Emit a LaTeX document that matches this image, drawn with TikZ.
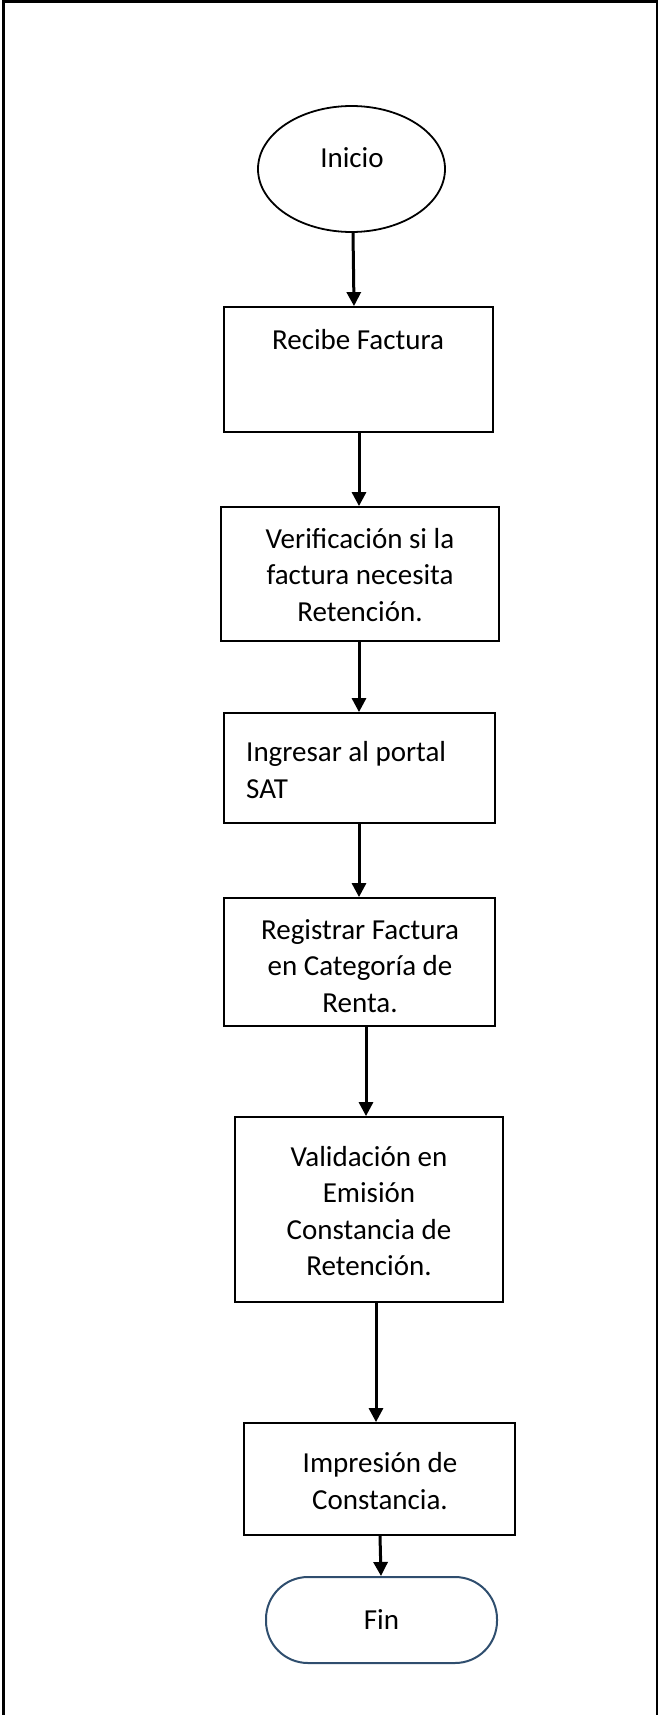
\documentclass[tikz,border=0pt]{standalone}
\usepackage{fontspec}
\setmainfont{Carlito}
\usetikzlibrary{arrows.meta,shapes.geometric}
\definecolor{finblue}{RGB}{47,78,110}
\tikzset{
  boxnode/.style={draw=black, line width=1.8pt, rectangle, inner sep=0pt},
  txt/.style={inner sep=0pt, font=\fontsize{29pt}{36.5pt}\selectfont, align=center},
  arr/.style={line width=3pt, -{Triangle[length=14pt,width=14pt]}, shorten >=0pt}
}
\begin{document}
\begin{tikzpicture}[x=1pt,y=-1pt]
\useasboundingbox (0,0) rectangle (659,1715);
\draw[line width=2.2pt] (3.5,1716) -- (3.5,1.5) -- (657,1.5) -- (657,1716);

% shapes
\node[draw=black, line width=1.8pt, ellipse, inner sep=0pt, minimum width=187pt, minimum height=126pt] (ini) at (351.5,169) {};
\node[boxnode, minimum width=269pt, minimum height=125pt] (rb) at (358.5,369.5) {};
\node[boxnode, minimum width=278pt, minimum height=134pt] (vr) at (360,574) {};
\node[boxnode, minimum width=271pt, minimum height=110pt] (ip) at (359.5,768) {};
\node[boxnode, minimum width=271pt, minimum height=128pt] (rg) at (359.5,962) {};
\node[boxnode, minimum width=268pt, minimum height=185pt] (vl) at (369,1209.5) {};
\node[boxnode, minimum width=271pt, minimum height=112pt] (im) at (379.5,1479) {};
\node[draw=finblue, line width=2pt, rectangle, rounded corners=42pt, inner sep=0pt, minimum width=231pt, minimum height=86pt] (fin) at (381.5,1620) {};

% texts
\node[txt] (t1) at (352,158) {Inicio};
\node[txt] (t2) at (358,340) {Recibe Factura};
\node[txt] (t3) at (360,575) {Verificación si la\\factura necesita\\Retención.};
\node[txt, align=left, anchor=west] (t4) at (246,770) {Ingresar al portal\\SAT};
\node[txt] (t5) at (360,966) {Registrar Factura\\en Categoría de\\Renta.};
\node[txt] (t6) at (369,1211) {Validación en\\Emisión\\Constancia de\\Retención.};
\node[txt] (t7) at (380,1481) {Impresión de\\Constancia.};
\node[txt] (t8) at (381.5,1620) {Fin};

% connectors
\draw[arr] ([xshift=1.5pt]ini.south) -- ([xshift=-4.5pt]rb.north);
\draw[arr] ([xshift=0.5pt]rb.south) -- ([xshift=-1pt]vr.north);
\draw[arr] ([xshift=-1pt]vr.south) -- ([xshift=-0.5pt]ip.north);
\draw[arr] ([xshift=-0.5pt]ip.south) -- ([xshift=-0.5pt]rg.north);
\draw[arr] ([xshift=6.5pt]rg.south) -- ([xshift=-3pt]vl.north);
\draw[arr] ([xshift=7pt]vl.south) -- ([xshift=-3.5pt]im.north);
\draw[arr] ([xshift=0.5pt]im.south) -- ([xshift=-0.5pt]fin.north);
\end{tikzpicture}
\end{document}
